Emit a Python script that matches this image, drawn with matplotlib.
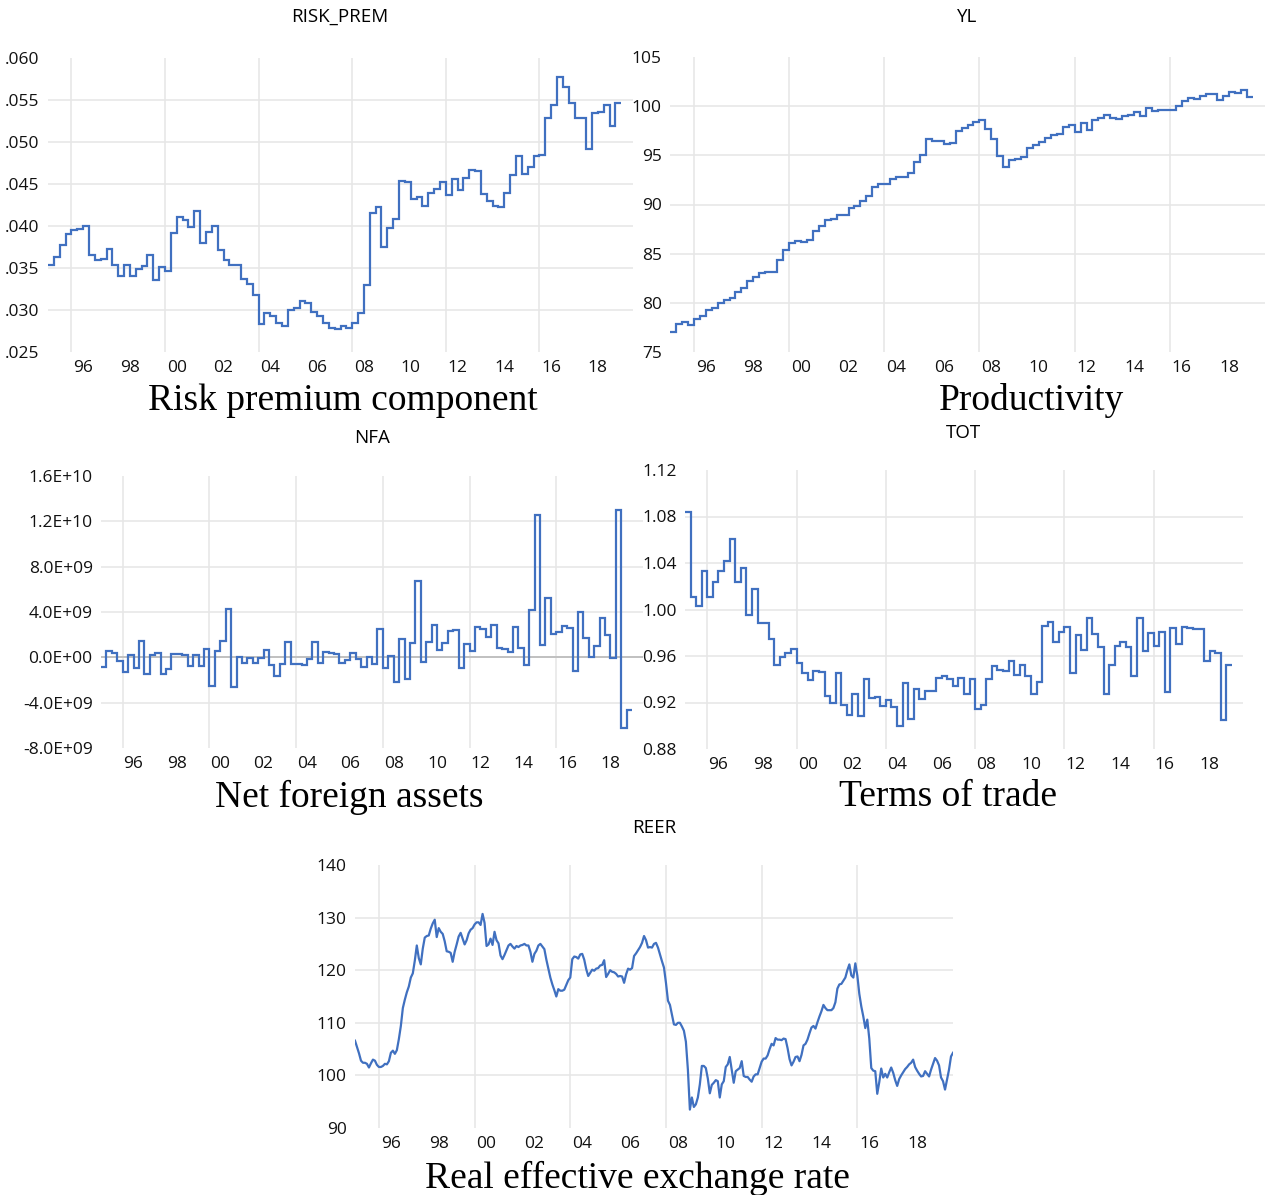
import numpy as np
import matplotlib
matplotlib.use('Agg')
import matplotlib.pyplot as plt

plt.rcParams['font.family'] = ['Open Sans', 'DejaVu Sans']

# Quarterly series, 1995Q1 .. 2019Q2
risk_prem = [
    .0354, .0363, .0377, .0390,  .0395, .0397, .0400, .0366,
    .0359, .0361, .0373, .0353,  .0341, .0353, .0340, .0349,
    .0352, .0366, .0336, .0351,  .0347, .0392, .0411, .0407,
    .0399, .0418, .0380, .0393,  .0400, .0371, .0360, .0353,
    .0354, .0337, .0331, .0318,  .0283, .0296, .0293, .0284,
    .0281, .0300, .0302, .0311,  .0308, .0298, .0293, .0284,
    .0279, .0277, .0281, .0278,  .0284, .0297, .0330, .0416,
    .0423, .0375, .0398, .0408,  .0454, .0452, .0432, .0435,
    .0424, .0439, .0444, .0452,  .0437, .0456, .0443, .0457,
    .0467, .0465, .0438, .0430,  .0424, .0423, .0439, .0461,
    .0483, .0462, .0470, .0483,  .0485, .0528, .0544, .0577,
    .0566, .0546, .0528, .0529,  .0492, .0535, .0536, .0544,
    .0519, .0546,
]

yl = [
    77.0, 77.8, 78.1, 77.7,  78.4, 78.7, 79.3, 79.5,
    80.0, 80.3, 80.5, 81.1,  81.5, 82.2, 82.6, 83.0,
    83.1, 83.1, 84.4, 85.4,  86.1, 86.3, 86.2, 86.4,
    87.3, 87.8, 88.4, 88.5,  88.9, 88.9, 89.6, 89.8,
    90.4, 90.9, 91.8, 92.1,  92.1, 92.6, 92.8, 92.8,
    93.2, 94.3, 95.0, 96.7,  96.5, 96.5, 96.2, 96.3,
    97.5, 97.8, 98.1, 98.4,  98.6, 97.7, 96.7, 94.9,
    93.8, 94.5, 94.6, 94.8,  95.7, 96.1, 96.4, 96.8,
    97.1, 97.2, 97.9, 98.1,  97.4, 98.3, 97.6, 98.6,
    98.8, 99.1, 98.8, 98.7,  99.0, 99.1, 99.4, 99.0,
    99.8, 99.5, 99.6, 99.6,  99.6, 100.0, 100.5, 100.8,
    100.7, 101.0, 101.2, 101.2,  100.6, 101.0, 101.4, 101.3,
    101.6, 100.9,
]

# net foreign assets, billions
nfa = [
    -0.82, 0.59, 0.35, -0.29,  -1.32, 0.23, -0.94, 1.47,
    -1.47, 0.23, 0.35, -1.47,  -1.03, 0.29, 0.29, 0.23,
    -0.79, 0.18, -0.73, 0.73,  -2.50, 0.59, 1.47, 4.26,
    -2.58, 0.00, -0.50, -0.06,  -0.50, -0.06, 0.68, -0.68,
    -1.62, -0.59, 1.32, -0.59,  -0.59, -0.65, -0.15, 1.38,
    -0.53, 0.50, 0.38, 0.29,  -0.50, -0.21, 0.38, -0.15,
    -0.82, 0.06, -0.56, 2.50,  -0.94, 0.09, -2.14, 1.62,
    -1.91, 1.26, 6.75, -0.44,  1.32, 2.85, 0.68, 1.23,
    2.29, 2.44, -0.97, 1.17,  0.59, 2.70, 2.50, 1.76,
    2.85, 0.82, 0.73, 0.50,  2.70, 0.82, -0.68, 4.20,
    12.57, 1.09, 5.23, 2.06,  2.26, 2.73, 2.56, -1.17,
    4.02, 1.70, 0.00, 0.97,  3.47, 2.00, -0.06, 13.0,
    -6.26, -4.61,
]

tot = [
    1.084, 1.011, 1.003, 1.033,  1.011, 1.024, 1.033, 1.042,
    1.061, 1.024, 1.036, 0.995,  1.018, 0.988, 0.988, 0.975,
    0.952, 0.959, 0.963, 0.966,  0.954, 0.945, 0.939, 0.947,
    0.946, 0.926, 0.920, 0.945,  0.918, 0.909, 0.927, 0.908,
    0.940, 0.924, 0.925, 0.917,  0.922, 0.916, 0.900, 0.937,
    0.906, 0.932, 0.923, 0.930,  0.930, 0.941, 0.943, 0.940,
    0.934, 0.941, 0.927, 0.940,  0.914, 0.918, 0.940, 0.951,
    0.948, 0.947, 0.956, 0.944,  0.952, 0.943, 0.927, 0.938,
    0.986, 0.989, 0.972, 0.981,  0.985, 0.945, 0.978, 0.965,
    0.993, 0.979, 0.968, 0.927,  0.952, 0.969, 0.972, 0.968,
    0.943, 0.993, 0.964, 0.980,  0.969, 0.981, 0.929, 0.984,
    0.970, 0.985, 0.984, 0.983,  0.983, 0.956, 0.964, 0.963,
    0.905, 0.952,
]

# Monthly, 1995M01 .. 2020M01
reer = [
    106.6, 105.4, 104.2, 102.8, 102.4, 102.4, 102.2, 101.5, 102.3, 103.0, 102.8, 102.0,
    101.6, 101.6, 101.8, 102.2, 102.1, 102.7, 104.3, 104.7, 104.1, 104.8, 106.9, 109.4,
    112.8, 114.4, 115.8, 116.9, 118.6, 119.4, 121.8, 124.7, 122.3, 121.1, 124.1, 126.2,
    126.5, 126.6, 127.9, 128.9, 129.6, 126.3, 128.0, 127.3, 126.9, 125.5, 123.6, 123.5,
    123.3, 121.6, 123.5, 124.9, 126.4, 127.1, 126.0, 124.9, 125.7, 127.0, 127.7, 128.0,
    128.7, 129.1, 129.1, 128.6, 130.7, 129.0, 124.6, 124.9, 126.0, 124.8, 127.3, 125.7,
    125.1, 122.8, 122.1, 122.9, 123.8, 124.7, 125.0, 124.5, 124.1, 124.6, 124.4, 124.7,
    124.8, 125.0, 124.7, 124.7, 123.5, 121.6, 123.1, 123.7, 124.7, 125.0, 124.5, 124.0,
    122.0, 120.3, 118.6, 117.3, 116.2, 115.0, 116.4, 116.1, 116.1, 116.3, 117.2, 118.1,
    118.6, 122.1, 122.6, 122.5, 122.2, 123.0, 123.1, 122.0, 120.2, 118.9, 119.5, 120.1,
    119.9, 120.3, 120.4, 120.9, 121.0, 121.9, 118.7, 119.3, 120.0, 119.7, 119.6, 119.3,
    118.8, 118.9, 118.8, 117.6, 119.2, 120.3, 120.1, 120.4, 122.7, 123.2, 123.8, 124.4,
    125.2, 126.5, 125.7, 124.3, 124.4, 124.3, 125.0, 125.2, 124.3, 123.0, 121.7, 120.5,
    117.6, 114.2, 113.4, 111.5, 109.7, 109.6, 110.0, 110.0, 109.3, 108.5, 106.4, 101.1,
    93.5, 95.8, 94.0, 94.5, 95.8, 98.3, 101.8, 101.8, 101.4, 99.4, 96.6, 98.2,
    98.6, 99.1, 98.9, 95.8, 98.3, 98.9, 101.6, 102.1, 103.5, 101.1, 98.6, 100.8,
    101.1, 101.4, 102.7, 99.9, 99.7, 99.7, 99.2, 98.8, 99.8, 100.2, 100.2, 101.4,
    102.6, 103.2, 103.2, 103.8, 105.0, 106.0, 105.7, 107.1, 106.8, 106.8, 106.7, 107.0,
    106.9, 105.2, 103.1, 101.9, 102.6, 103.5, 103.6, 102.7, 103.9, 105.7, 106.0, 106.8,
    108.0, 109.1, 109.4, 108.9, 110.1, 111.2, 112.2, 113.4, 112.8, 112.4, 112.4, 112.4,
    112.8, 113.9, 116.5, 117.3, 117.4, 118.0, 118.6, 120.0, 121.1, 119.0, 118.6, 121.3,
    119.0, 115.5, 113.1, 111.2, 109.0, 110.6, 107.0, 101.4, 100.9, 100.8, 96.5, 98.7,
    101.3, 99.6, 100.3, 99.6, 100.6, 101.5, 100.5, 99.1, 98.0, 99.3, 100.0, 100.6,
    101.2, 101.6, 102.1, 102.4, 103.0, 101.6, 100.9, 100.3, 99.8, 99.9, 100.8, 100.3,
    99.8, 101.1, 102.2, 103.3, 102.8, 101.9, 99.6, 98.9, 97.3, 99.2, 101.1, 103.6,
    104.3,
]

label_years = [1996, 1998, 2000, 2002, 2004, 2006, 2008, 2010, 2012, 2014, 2016, 2018]
year_labels = ['96', '98', '00', '02', '04', '06', '08', '10', '12', '14', '16', '18']
grid_years = [1996, 2000, 2004, 2008, 2012, 2016]

LINE = '#4070c0'
GRID = '#e6e6e6'
W, H = 1265, 1195

fig = plt.figure(figsize=(W / 100, H / 100), dpi=100)


def panel(left, top, right, bottom, yticks, ylabels, title, tx, ty, caption, cx, cy):
    ax = fig.add_axes([left / W, 1 - bottom / H, (right - left) / W, (bottom - top) / H])
    ax.set_xlim(1995, 2020)
    ax.set_ylim(yticks[0], yticks[-1])
    ax.set_xticks([y + 0.5 for y in label_years])
    ax.set_xticklabels(year_labels)
    ax.set_yticks(yticks)
    ax.set_yticklabels(ylabels)
    ax.tick_params(length=0, labelsize=12.5, pad=6, colors='#111111')
    for s in ax.spines.values():
        s.set_visible(False)
    for g in grid_years:
        ax.axvline(g, color=GRID, lw=1.1, zorder=0)
    for v in yticks[1:-1]:
        ax.axhline(v, color=GRID, lw=1.1, zorder=0)
    fig.text(tx / W, 1 - ty / H, title, ha='center', va='center', fontsize=13.5)
    fig.text(cx / W, 1 - cy / H, caption, ha='center', va='center', fontsize=27,
             family='Liberation Serif')
    return ax


def quarters(values):
    return 1995 + 0.25 * np.arange(len(values) + 1)


# Risk premium
ax = panel(48, 58, 633, 352, [.025, .030, .035, .040, .045, .050, .055, .060],
           ['.025', '.030', '.035', '.040', '.045', '.050', '.055', '.060'],
           'RISK_PREM', 340, 17, 'Risk premium component', 343, 401)
ax.stairs(risk_prem, quarters(risk_prem), baseline=None, color=LINE, lw=1.6)

# Productivity
ax = panel(670, 57, 1265, 352, [75, 80, 85, 90, 95, 100, 105],
           ['75', '80', '85', '90', '95', '100', '105'],
           'YL', 967, 17, 'Productivity', 1031, 401)
ax.stairs(yl, quarters(yl), baseline=None, color=LINE, lw=1.6)

# Net foreign assets
ax = panel(101, 476, 643, 748, [-8e9, -4e9, 0, 4e9, 8e9, 1.2e10, 1.6e10],
           ['-8.0E+09', '-4.0E+09', '0.0E+00', '4.0E+09', '8.0E+09', '1.2E+10', '1.6E+10'],
           'NFA', 372, 438, 'Net foreign assets', 349, 797)
ax.axhline(0, color='#bdbdbd', lw=1.3, zorder=1)
ax.stairs(np.array(nfa) * 1e9, quarters(nfa), baseline=None, color=LINE, lw=1.6)

# Terms of trade
ax = panel(685, 470, 1243, 749, [0.88, 0.92, 0.96, 1.00, 1.04, 1.08, 1.12],
           ['0.88', '0.92', '0.96', '1.00', '1.04', '1.08', '1.12'],
           'TOT', 963, 433, 'Terms of trade', 948, 797)
ax.stairs(tot, quarters(tot), baseline=None, color=LINE, lw=1.6)

# Real effective exchange rate
ax = panel(355, 865, 953, 1128, [90, 100, 110, 120, 130, 140],
           ['90', '100', '110', '120', '130', '140'],
           'REER', 654, 828, 'Real effective exchange rate', 637, 1178)
ax.plot(1995 + np.arange(len(reer)) / 12, reer, color=LINE, lw=1.6)

fig.savefig('out.png', dpi=100)
